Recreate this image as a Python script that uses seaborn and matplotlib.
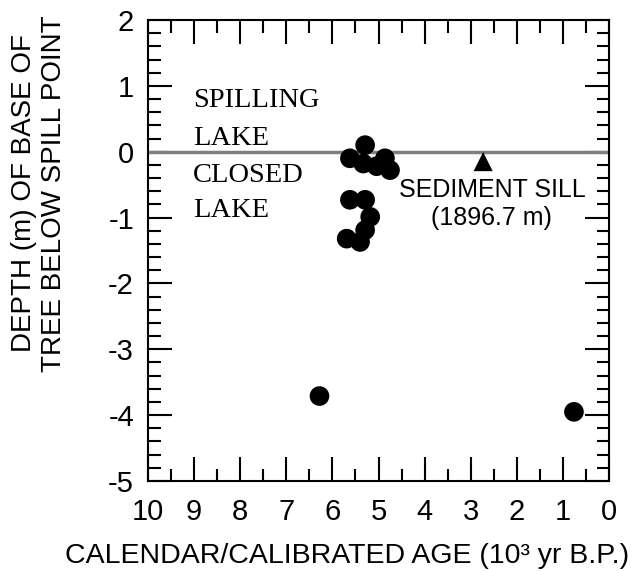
import numpy as np
import pandas as pd
import matplotlib
matplotlib.use("Agg")
import matplotlib.pyplot as plt
import seaborn as sns
from matplotlib.ticker import MultipleLocator

# dated tree stumps: age (10^3 yr B.P.) and depth below spill point (m)
tree_age = [5.29, 5.62, 5.33, 5.04, 4.86, 4.75,
            5.62, 5.29, 5.18, 5.29, 5.69, 5.40,
            6.28, 0.76]
tree_depth = [0.10, -0.10, -0.18, -0.22, -0.10, -0.28,
              -0.73, -0.73, -0.99, -1.19, -1.32, -1.37,
              -3.71, -3.95]

sill_age = [2.73]
sill_depth = [-0.15]

x_ticks = [10, 9, 8, 7, 6, 5, 4, 3, 2, 1, 0]
y_ticks = [2, 1, 0, -1, -2, -3, -4, -5]

trees = pd.DataFrame({"age": tree_age, "depth": tree_depth})
sill = pd.DataFrame({"age": sill_age, "depth": sill_depth})

sns.set_style("ticks")
plt.rcParams["font.family"] = ["Liberation Sans", "DejaVu Sans"]
plt.rcParams["axes.unicode_minus"] = False
plt.rcParams["text.color"] = "black"
plt.rcParams["axes.labelcolor"] = "black"
plt.rcParams["xtick.labelcolor"] = "black"
plt.rcParams["ytick.labelcolor"] = "black"

fig = plt.figure(figsize=(6.37, 5.71), dpi=100)
ax = fig.add_axes([148 / 637, 1 - 481 / 571, 461 / 637, 461 / 571])

ax.axhline(0, color="#7f7f7f", lw=2.5, zorder=1)
sns.scatterplot(data=trees, x="age", y="depth", ax=ax, s=200, color="black",
                marker="o", edgecolor="none", zorder=3)
sns.scatterplot(data=sill, x="age", y="depth", ax=ax, s=190, color="black",
                marker="^", edgecolor="none", zorder=3)

ax.set_xlim(10, 0)
ax.set_ylim(-5, 2)
ax.set_xticks(x_ticks)
ax.set_yticks(y_ticks)
ax.xaxis.set_minor_locator(MultipleLocator(0.5))
ax.yaxis.set_minor_locator(MultipleLocator(0.2))
ax.tick_params(which="both", direction="in", top=True, right=True,
               width=1.5, color="black", labelsize=21, pad=10)
ax.tick_params(axis="x", pad=12)
ax.tick_params(which="major", length=17)
ax.tick_params(which="minor", length=9)
for sp in ax.spines.values():
    sp.set_linewidth(1.5)
    sp.set_color("black")

ax.set_xlabel("CALENDAR/CALIBRATED AGE (10³ yr B.P.)", fontsize=20.5)
ax.xaxis.set_label_coords(0.432, -0.135)
ax.set_ylabel("DEPTH (m) OF BASE OF\nTREE BELOW SPILL POINT", fontsize=20,
              linespacing=1.2)
ax.yaxis.set_label_coords(-0.176, 0.624)

serif = ["Liberation Serif", "DejaVu Serif"]
ax.text(9.02, 0.68, "SPILLING", family=serif, fontsize=20.5, ha="left", va="baseline")
ax.text(9.02, 0.10, "LAKE", family=serif, fontsize=20.5, ha="left", va="baseline")
ax.text(9.02, -0.46, "CLOSED", family=serif, fontsize=20.5, ha="left", va="baseline")
ax.text(9.02, -0.99, "LAKE", family=serif, fontsize=20.5, ha="left", va="baseline")
ax.text(2.54, -0.69, "SEDIMENT SILL", fontsize=18, ha="center", va="baseline")
ax.text(2.54, -1.11, "(1896.7 m)", fontsize=18, ha="center", va="baseline")

fig.savefig("out.png", dpi=100, facecolor="white")
